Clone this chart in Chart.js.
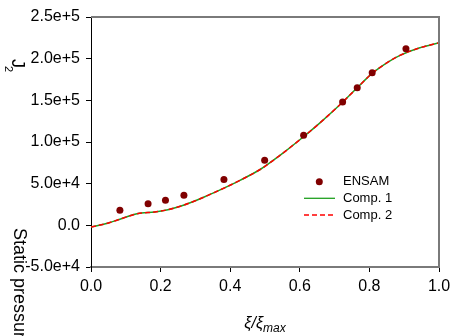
<!DOCTYPE html>
<html>
<head>
<meta charset="utf-8">
<script src="https://cdn.jsdelivr.net/npm/chart.js@4.4.1/dist/chart.umd.min.js"></script>
<style>
html,body{margin:0;padding:0;background:#fff;}
canvas{display:block;}
</style>
</head>
<body>
<canvas id="c" width="450" height="336"></canvas>
<script>
// ---- data ----
const ensamX = [0.083, 0.164, 0.214, 0.267, 0.382, 0.499, 0.611, 0.723, 0.765, 0.808, 0.905];
const ensamY = [18000, 26000, 30000, 36000, 55000, 78000, 108000, 148000, 165000, 183000, 212000];

const compX = [0, 0.05, 0.087, 0.126, 0.145, 0.183, 0.221, 0.259, 0.298, 0.336, 0.371, 0.428, 0.486, 0.543, 0.601, 0.658, 0.716, 0.765, 0.807, 0.85, 0.888, 0.945, 1.0];
const comp1Y = [-2000, 2800, 8000, 13200, 14800, 16000, 18800, 23200, 29200, 36000, 42500, 54000, 67000, 84000, 103000, 123000, 145000, 165000, 182000, 195000, 204000, 213000, 219000];
const comp2Y = [-2000, 2800, 8000, 13200, 14800, 16000, 18800, 23200, 29200, 36000, 42500, 54000, 67000, 84000, 103000, 123000, 145000, 165000, 182000, 195000, 204000, 213000, 219000];

const seriesNames = ['ENSAM', 'Comp. 1', 'Comp. 2'];
const xTickLabels = ['0.0', '0.2', '0.4', '0.6', '0.8', '1.0'];
const yTickLabels = ['-5.0e+4', '0.0', '5.0e+4', '1.0e+5', '1.5e+5', '2.0e+5', '2.5e+5'];
const yTitleMain = 'Static pressure';
const yTitleSym = 'J';
const yTitleSub = '2';
const xTitleMain = 'ξ/ξ';
const xTitleSub = 'max';

const FONT = "'Liberation Sans', Arial, sans-serif";
const DOT = '#800000', GREEN = '#1fa01f', RED = '#ff0000';

const pts = (xs, ys) => xs.map((x, i) => ({x: x, y: ys[i]}));

const extras = {
  id: 'extras',
  afterDraw(chart) {
    const ctx = chart.ctx;
    const a = chart.chartArea;
    ctx.save();
    // frame top & right
    ctx.strokeStyle = '#7a7a7a';
    ctx.lineWidth = 2;
    ctx.beginPath();
    ctx.moveTo(a.left, a.top);
    ctx.lineTo(a.right, a.top);
    ctx.lineTo(a.right, a.bottom);
    ctx.stroke();

    // legend
    ctx.font = '13px ' + FONT;
    ctx.fillStyle = '#000';
    ctx.textBaseline = 'middle';
    ctx.textAlign = 'left';
    const lx = 343, ly = [181.7, 198.3, 215];
    ctx.fillText(seriesNames[0], lx, ly[0]);
    ctx.fillText(seriesNames[1], lx, ly[1]);
    ctx.fillText(seriesNames[2], lx, ly[2]);
    ctx.fillStyle = DOT;
    ctx.beginPath();
    ctx.arc(319.3, ly[0], 3.5, 0, Math.PI * 2);
    ctx.fill();
    ctx.lineWidth = 1.3;
    ctx.strokeStyle = GREEN;
    ctx.beginPath(); ctx.moveTo(304, ly[1]); ctx.lineTo(335, ly[1]); ctx.stroke();
    ctx.strokeStyle = RED;
    ctx.setLineDash([5, 3]);
    ctx.beginPath(); ctx.moveTo(304, ly[2]); ctx.lineTo(335, ly[2]); ctx.stroke();
    ctx.setLineDash([]);

    // x title
    ctx.fillStyle = '#000';
    ctx.textBaseline = 'alphabetic';
    ctx.font = 'italic 16px ' + FONT;
    const w1 = ctx.measureText(xTitleMain).width;
    ctx.font = 'italic 12px ' + FONT;
    const w2 = ctx.measureText(xTitleSub).width;
    const cx = (a.left + a.right) / 2;
    let sx = cx - (w1 + w2) / 2;
    ctx.font = 'italic 16px ' + FONT;
    ctx.fillText(xTitleMain, sx, 328);
    ctx.font = 'italic 12px ' + FONT;
    ctx.fillText(xTitleSub, sx + w1, 332);

    // y title pieces (rotated clockwise)
    ctx.save();
    ctx.translate(13.5, 228);
    ctx.rotate(Math.PI / 2);
    ctx.font = '18px ' + FONT;
    ctx.fillText(yTitleMain, 0, 0);
    ctx.restore();

    ctx.save();
    ctx.translate(11.5, 59);
    ctx.rotate(Math.PI / 2);
    ctx.font = '18px ' + FONT;
    ctx.fillText(yTitleSym, 0, 0);
    ctx.restore();

    ctx.save();
    ctx.translate(5, 66);
    ctx.rotate(Math.PI / 2);
    ctx.font = '11px ' + FONT;
    ctx.fillText(yTitleSub, 0, 0);
    ctx.restore();

    ctx.restore();
  }
};

new Chart(document.getElementById('c'), {
  type: 'scatter',
  data: {
    datasets: [
      {
        label: seriesNames[0],
        data: pts(ensamX, ensamY),
        backgroundColor: DOT,
        borderColor: DOT,
        pointRadius: 3.5,
        pointBorderWidth: 0,
        showLine: false,
        order: 0
      },
      {
        label: seriesNames[1],
        data: pts(compX, comp1Y),
        borderColor: GREEN,
        backgroundColor: GREEN,
        borderWidth: 1.5,
        pointRadius: 0,
        showLine: true,
        tension: 0.35,
        order: 2
      },
      {
        label: seriesNames[2],
        data: pts(compX, comp2Y),
        borderColor: RED,
        backgroundColor: RED,
        borderWidth: 1.5,
        borderDash: [5, 3],
        pointRadius: 0,
        showLine: true,
        tension: 0.35,
        order: 1
      }
    ]
  },
  options: {
    responsive: false,
    animation: false,
    devicePixelRatio: 1,
    layout: { padding: { top: 17, right: 11, left: 0, bottom: 0 } },
    plugins: { legend: { display: false }, tooltip: { enabled: false } },
    scales: {
      x: {
        type: 'linear',
        min: 0, max: 1,
        ticks: {
          stepSize: 0.2,
          color: '#000',
          font: { size: 16, family: FONT },
          padding: 5,
          maxRotation: 0,
          callback: (v, i) => xTickLabels[i]
        },
        grid: { drawOnChartArea: false, drawTicks: true, tickLength: 5, color: '#000' },
        border: { color: '#7a7a7a', width: 2 },
        afterFit(s) { s.height = 69; s.paddingLeft = 0; s.paddingRight = 0; }
      },
      y: {
        type: 'linear',
        min: -50000, max: 250000,
        ticks: {
          stepSize: 50000,
          color: '#000',
          font: { size: 16, family: FONT },
          padding: 6,
          callback: (v, i) => yTickLabels[i]
        },
        grid: { drawOnChartArea: false, drawTicks: true, tickLength: 5, color: '#000' },
        border: { color: '#000', width: 1 },
        afterFit(s) { s.width = 91; s.paddingTop = 0; s.paddingBottom = 0; }
      }
    }
  },
  plugins: [extras]
});
</script>
</body>
</html>
